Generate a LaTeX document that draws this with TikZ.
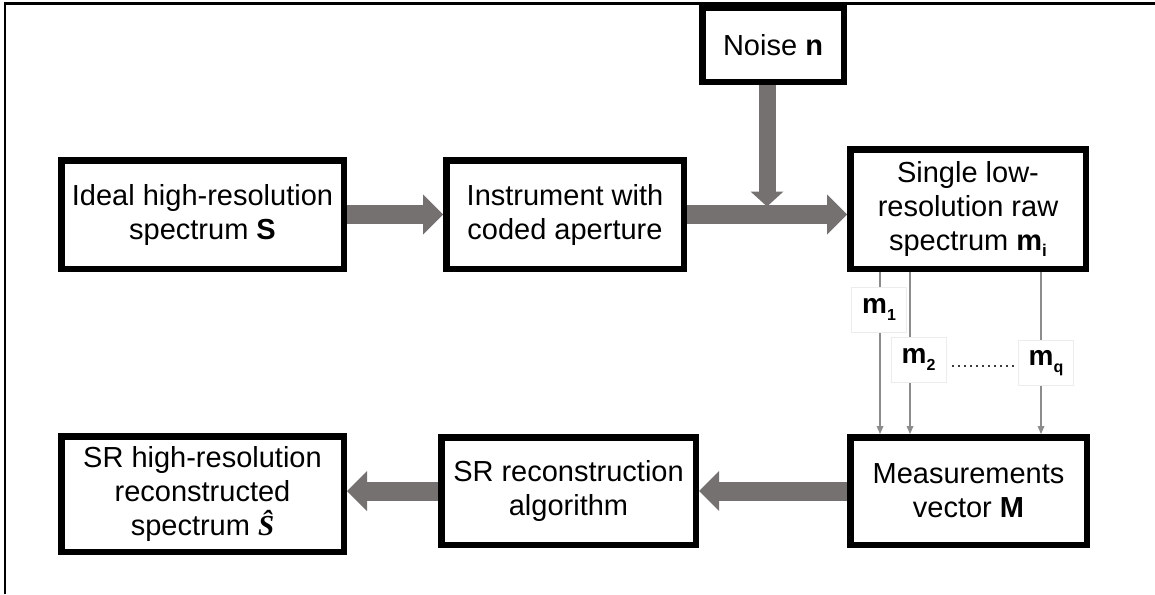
\documentclass[tikz,border=0pt]{standalone}
\usepackage{fontspec}
\setmainfont{Liberation Sans}
\newfontfamily\hatserif{Liberation Serif}
\usetikzlibrary{arrows.meta,calc}
\definecolor{arrgray}{RGB}{117,113,112}
\definecolor{thingray}{RGB}{140,140,140}
\definecolor{lblframe}{RGB}{236,236,236}
\definecolor{dotgray}{RGB}{60,60,60}
\newcommand{\mysub}[1]{\raisebox{-0.22em}{\fontsize{17}{17}\selectfont\bfseries #1}}
\newcommand{\mysubs}[1]{\raisebox{-0.25em}{\fontsize{16}{16}\selectfont\bfseries #1}}
\begin{document}
\begin{tikzpicture}[x=1pt,y=-1pt,
  box/.style={draw=black, line width=6.5pt, fill=white, align=center, inner sep=0pt,
    font=\fontsize{29}{34}\selectfont},
  fat/.style={draw=arrgray, line width=19pt, -{Triangle[length=20pt,width=40pt,line width=0pt]}},
  noisearr/.style={draw=arrgray, line width=17pt, -{Triangle[length=15pt,width=33pt,line width=0pt]}},
  thinarr/.style={draw=thingray, line width=1.8pt, -{Triangle[length=8pt,width=7pt,line width=0pt]}},
  lbl/.style={draw=lblframe, line width=0.8pt, fill=white, inner sep=0pt,
    minimum width=55pt, minimum height=45pt, font=\fontsize{28}{28}\selectfont\bfseries}]
\useasboundingbox (0,0) rectangle (1155,594);
% frame (top and left edges)
\draw[line width=2.3pt] (5,594) -- (5,3.5) -- (1155,3.5);
% boxes
\node[box, minimum width=282.5pt, minimum height=108.5pt] (ideal) at (202.5,214.5) {Ideal high-resolution\\spectrum \textbf{S}};
\node[box, minimum width=237.5pt, minimum height=108.5pt] (instr) at (565,214.5) {Instrument with\\coded aperture};
\node[box, minimum width=141.5pt, minimum height=73.5pt] (noise) at (773,45) {Noise \textbf{n}};
\node[box, minimum width=235.5pt, minimum height=119.5pt] (single) at (968,209) {Single low-\\resolution raw\\spectrum \textbf{m}\mysub{i}};
\node[box, minimum width=236.5pt, minimum height=107.5pt] (meas) at (968.5,491) {Measurements\\vector \textbf{M}};
\node[box, minimum width=254.5pt, minimum height=107.5pt] (recon) at (568.5,491) {SR reconstruction\\algorithm};
\node[box, minimum width=282.5pt, minimum height=115.5pt] (srhr) at (202.5,494) {SR high-resolution\\reconstructed\\spectrum {\hatserif\bfseries\itshape Ŝ}};
% thick arrows
\coordinate (j) at (767,206.5);
\draw[fat] (ideal.east) -- (instr.west);
\draw[fat] (instr.east) -- (instr.east -| single.west);
\draw[noisearr] (noise.south -| j) -- (j);
\draw[fat] (meas.west) -- (recon.east);
\draw[fat] (recon.west) -- (recon.west -| srhr.east);
% thin arrows
\coordinate (x1) at (880,0);
\coordinate (x2) at (910,0);
\coordinate (x3) at (1041,0);
\draw[thinarr] (single.south -| x1) -- (meas.north -| x1);
\draw[thinarr] (single.south -| x2) -- (meas.north -| x2);
\draw[thinarr] (single.south -| x3) -- (meas.north -| x3);
% labels
\node[lbl] (m1) at (879,309.5) {m\mysubs{1}};
\node[lbl] (m2) at (918.5,359.5) {m\mysubs{2}};
\node[lbl] (mq) at (1046,363) {m\mysubs{q}};
\draw[dotgray, line width=1.6pt, dash pattern=on 1.6pt off 4.4pt] ($(m2.east)+(6,6.5)$) -- ($(mq.west)+(0,3)$);
\end{tikzpicture}
\end{document}
